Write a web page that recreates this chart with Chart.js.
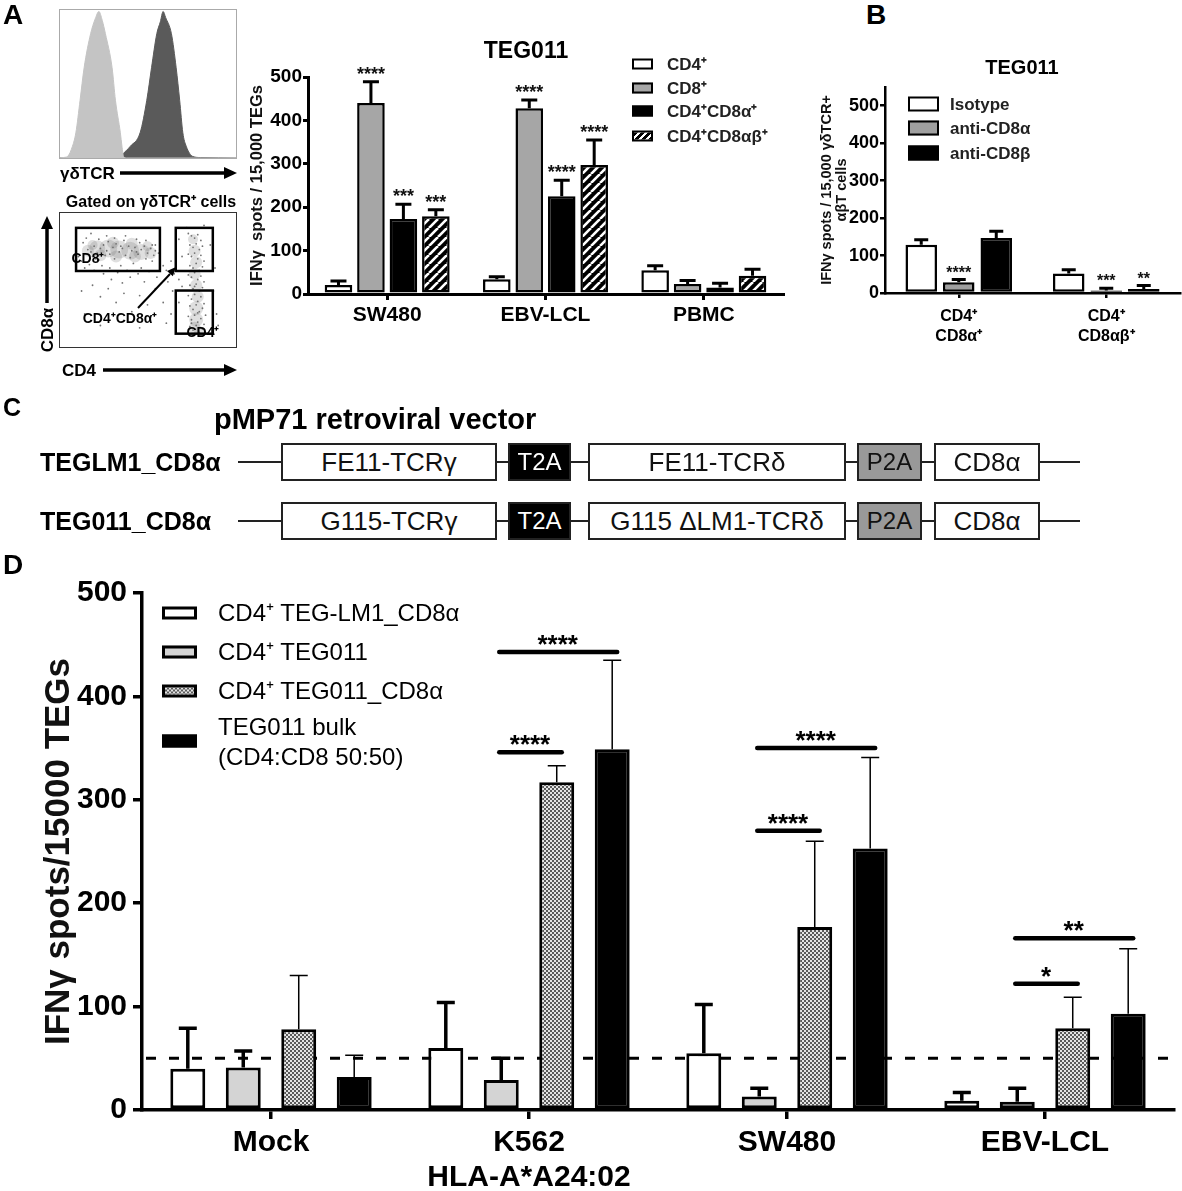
<!DOCTYPE html>
<html>
<head>
<meta charset="utf-8">
<script src="https://cdn.jsdelivr.net/npm/chart.js@4.4.1/dist/chart.umd.min.js"></script>
<style>
  body { margin: 0; background: #fff; }
  #page { position: relative; width: 1182px; height: 1191px; overflow: hidden;
          font-family: 'Liberation Sans', Arial, sans-serif; color: #000; }
  canvas { position: absolute; }
  .t  { position: absolute; white-space: nowrap; line-height: 1; transform: translate(-50%, -50%); }
  .tl { position: absolute; white-space: nowrap; line-height: 1; transform: translate(0, -50%); }
  .sw { position: absolute; box-sizing: border-box; transform: translate(0, -50%); }
  .frame { position: absolute; box-sizing: border-box; }
  .box { position: absolute; box-sizing: border-box; border: 2px solid #222; background: #fff;
         display: flex; align-items: center; justify-content: center; font-size: 26px; white-space: nowrap; }
  .line { position: absolute; height: 2px; background: #222; }
</style>
</head>
<body>
<div id="page">
  <!-- panel A, left: histogram + dot plot -->
  <div class="frame" style="left:59px;top:9px;width:178px;height:150px;border:1px solid #aaa;">
    <canvas id="hist" width="176" height="148" style="left:0;top:0"></canvas>
  </div>
  <div class="frame" style="left:59px;top:212px;width:178px;height:136px;border:1.5px solid #333;">
    <canvas id="flow" width="175" height="133" style="left:0;top:0"></canvas>
  </div>

  <canvas id="chartA" width="550" height="330" style="left:240px;top:30px"></canvas>
  <canvas id="chartB" width="382" height="330" style="left:800px;top:30px"></canvas>
  <canvas id="chartD" width="1182" height="631" style="left:0;top:560px"></canvas>

  <svg style="position:absolute;left:0;top:0" width="260" height="390">
    <line x1="120" y1="173" x2="226" y2="173" stroke="#000" stroke-width="3.5"/>
    <polygon points="237,173 224,167 224,179" fill="#000"/>
    <line x1="103" y1="370" x2="226" y2="370" stroke="#000" stroke-width="3.5"/>
    <polygon points="237,370 224,364 224,376" fill="#000"/>
    <line x1="47" y1="303" x2="47" y2="228" stroke="#000" stroke-width="3.5"/>
    <polygon points="47,216 41,229 53,229" fill="#000"/>
    <line x1="138" y1="308" x2="170" y2="274" stroke="#000" stroke-width="2"/>
    <polygon points="176,267 172.8,276.3 167,270.9" fill="#000"/>
  </svg>
</div>

<script>
  // ---- panel A: TEG011 subsets (IFNγ spots / 15,000 TEGs) ----
  const aCategories = ['SW480', 'EBV-LCL', 'PBMC'];
  const aSeries = ['CD4⁺', 'CD8⁺', 'CD4⁺CD8α⁺', 'CD4⁺CD8αβ⁺'];
  const aCD4 = [21, 34, 55];
  const aCD8 = [440, 428, 23];
  const aCD4CD8a = [173, 225, 15];
  const aCD4CD8ab = [179, 297, 42];
  const aCD4Err = [30, 40, 65];
  const aCD8Err = [489, 447, 31];
  const aCD4CD8aErr = [207, 262, 25];
  const aCD4CD8abErr = [194, 355, 57];
  const aCD8Stars = ['****', '****', ''];
  const aCD4CD8aStars = ['***', '****', ''];
  const aCD4CD8abStars = ['***', '****', ''];

  // ---- panel B: blocking ----
  const bCategories = [['CD4⁺', 'CD8α⁺'], ['CD4⁺', 'CD8αβ⁺']];
  const bSeries = ['Isotype', 'anti-CD8α', 'anti-CD8β'];
  const bIsotype = [129, 52];
  const bAntiCD8a = [29, 7];
  const bAntiCD8b = [147, 11];
  const bIsotypeErr = [142, 62];
  const bAntiCD8aErr = [36, 13];
  const bAntiCD8bErr = [165, 20];
  const bAntiCD8aStars = ['****', '***'];
  const bAntiCD8bStars = ['', '**'];

  // ---- panel D ----
  const dCategories = ['Mock', ['K562', 'HLA-A*A24:02'], 'SW480', 'EBV-LCL'];
  const dSeries = ['CD4⁺ TEG-LM1_CD8α', 'CD4⁺ TEG011', 'CD4⁺ TEG011_CD8α', 'TEG011 bulk<br>(CD4:CD8 50:50)'];
  const dLM1 = [40, 60, 55, 9];
  const dTEG011 = [41, 29, 13, 8];
  const dTEG011CD8a = [78, 317, 177, 79];
  const dBulk = [32, 349, 253, 93];
  const dLM1Err = [79, 104, 102, 17];
  const dTEG011Err = [57, 50, 21, 21];
  const dTEG011CD8aErr = [130, 333, 260, 109];
  const dBulkErr = [53, 435, 341, 156];
  const dThreshold = 50;
  const dBracketCats = [1, 1, 2, 2, 3, 3];
  const dBracketFrom = [1, 1, 1, 1, 1, 1];
  const dBracketTo = [2, 3, 2, 3, 2, 3];
  const dBracketValues = [346, 443, 270, 350, 122, 166];
  const dBracketLabels = ['****', '****', '****', '****', '*', '**'];

  // ---- histogram (γδTCR) ----
  const lightX = [0, 3, 4.3, 7.1, 9, 11.4, 13.7, 17.4, 20, 22.1, 24, 25.8, 29.6, 31.5, 34.3, 35.2, 36.1, 38, 100];
  const lightY = [0, 0.5, 1, 8, 17, 39, 61, 84, 94, 99, 93, 84, 61, 39, 17, 8, 1, 0, 0];
  const darkX = [0, 33, 35, 40, 45.5, 49.3, 52, 55, 57, 58.6, 60, 63.3, 66, 68, 69.8, 71.7, 75.5, 80, 100];
  const darkY = [0, 0, 2, 8, 17, 39, 61, 84, 92, 99, 95, 84, 61, 39, 17, 8, 1, 0.3, 0];

  // ---- dot plot (CD4 vs CD8α), gates in % of axes ----
  const flowClouds = [[12,75,6],[18,77,8],[25,77,9],[32,76,9],[39,75,9],[46,74,8],[52,73,6],[20,71,6],[30,70,6],
    [42,70,6],[15,80,5],[28,82,6],[40,81,6],[50,79,5],[79,85,5],[80,75,6],[81,65,6],[80,55,6],[81,45,6],
    [82,35,6],[81,25,7],[81,15,7],[80,8,6],[83,5,5]];
  const flowDots = [[6,70],[8,66],[9,82],[10,60],[11,86],[13,63],[14,90],[16,58],[17,68],[19,85],[21,62],[22,55],
    [24,88],[26,60],[27,50],[29,86],[31,56],[33,62],[34,47],[36,88],[37,58],[39,52],[41,64],[43,85],[44,55],[46,60],
    [48,48],[49,84],[51,57],[53,66],[55,80],[56,52],[58,70],[60,62],[62,58],[63,48],[65,66],[66,40],[67,55],[70,50],
    [72,44],[25,42],[35,38],[45,36],[55,42],[60,30],[50,28],[30,30],[20,35],[15,45],[40,22],[65,20],[70,30],[62,12],
    [68,8],[10,20],[20,10],[45,8],[8,40],[92,40],[93,60],[94,20],[90,80],[95,10],[75,95],[86,97],[72,70],[70,85],
    [76,90],[78,88],[80,86],[82,89],[84,84],[77,80],[79,78],[81,81],[83,76],[85,79],[76,72],[78,70],[80,73],[82,68],
    [84,71],[86,66],[77,62],[79,60],[81,64],[83,58],[85,61],[76,54],[78,52],[80,56],[82,50],[84,53],[86,48],[77,45],
    [79,42],[81,46],[83,40],[85,43],[76,36],[78,33],[80,37],[82,31],[84,35],[86,29],[77,27],[79,24],[81,28],[83,22],
    [85,25],[87,19],[76,18],[78,15],[80,19],[82,13],[84,16],[86,11],[77,9],[79,6],[81,10],[83,4],[85,7],[87,3],
    [80,3],[78,12],[82,21],[80,44],[12,76],[14,74],[16,79],[18,73],[20,77],[22,80],[24,75],[26,72],[28,78],[30,81],
    [32,74],[34,77],[36,71],[38,79],[40,75],[42,78],[44,72],[46,76],[48,79],[50,73],[52,77],[54,71],[15,70],[25,83],
    [35,84],[45,82],[55,75],[19,67],[29,68],[39,69],[49,68],[23,71],[33,79],[43,74],[53,80],[57,73]];
  const gateLeft = [4.5, 68, 68], gateRight = [57.9, 91.6, 91.6];
  const gateBottom = [57.4, 57.4, 2.9], gateTop = [94.9, 94.9, 40.4];

  const FONT = "'Liberation Sans', Arial, sans-serif";
  Chart.defaults.font.family = FONT;
  Chart.defaults.color = '#000';

  function makeHatch() {
    const c = document.createElement('canvas'); c.width = c.height = 9;
    const g = c.getContext('2d');
    g.fillStyle = '#000'; g.fillRect(0, 0, 9, 9);
    g.strokeStyle = '#fff'; g.lineWidth = 2.6;
    for (const o of [-9, 0, 9]) { g.beginPath(); g.moveTo(o, 9); g.lineTo(o + 9, 0); g.stroke(); }
    return g.createPattern(c, 'repeat');
  }
  function makeChecker() {
    const c = document.createElement('canvas'); c.width = c.height = 4;
    const g = c.getContext('2d');
    g.fillStyle = '#e4e4e4'; g.fillRect(0, 0, 4, 4);
    g.fillStyle = '#5a5a5a'; g.fillRect(0, 0, 2, 2); g.fillRect(2, 2, 2, 2);
    return g.createPattern(c, 'repeat');
  }
  const hatch = makeHatch();
  const checker = makeChecker();

  // error bars + significance stars above each bar
  const errorBars = {
    id: 'errorBars',
    afterDatasetsDraw(chart) {
      const ctx = chart.ctx, y = chart.scales.y;
      chart.data.datasets.forEach((ds, i) => {
        if (!ds.errors) return;
        chart.getDatasetMeta(i).data.forEach((bar, j) => {
          const top = y.getPixelForValue(ds.errors[j]);
          ctx.save();
          ctx.strokeStyle = '#000';
          ctx.lineWidth = ds.errWidth;
          ctx.beginPath();
          ctx.moveTo(bar.x, bar.y);
          ctx.lineTo(bar.x, top);
          ctx.moveTo(bar.x - ds.capHalf, top);
          ctx.lineTo(bar.x + ds.capHalf, top);
          ctx.stroke();
          if (ds.stars && ds.stars[j]) {
            ctx.fillStyle = '#111';
            ctx.font = 'bold ' + ds.starSize + 'px ' + FONT;
            ctx.textAlign = 'center';
            ctx.textBaseline = 'alphabetic';
            ctx.fillText(ds.stars[j], bar.x, top - 2);
          }
          ctx.restore();
        });
      });
    }
  };

  const threshold = {
    id: 'threshold',
    beforeDatasetsDraw(chart) {
      const ctx = chart.ctx, a = chart.chartArea;
      const py = chart.scales.y.getPixelForValue(dThreshold);
      ctx.save();
      ctx.strokeStyle = '#000'; ctx.lineWidth = 3; ctx.setLineDash([10, 13]);
      ctx.beginPath(); ctx.moveTo(a.left + 4, py); ctx.lineTo(a.right, py); ctx.stroke();
      ctx.restore();
    }
  };

  const brackets = {
    id: 'brackets',
    afterDatasetsDraw(chart) {
      const ctx = chart.ctx, y = chart.scales.y;
      dBracketValues.forEach((v, k) => {
        const a = chart.getDatasetMeta(dBracketFrom[k]).data[dBracketCats[k]];
        const b = chart.getDatasetMeta(dBracketTo[k]).data[dBracketCats[k]];
        const py = y.getPixelForValue(v);
        ctx.save();
        ctx.strokeStyle = '#000'; ctx.lineWidth = 4.5; ctx.lineCap = 'round';
        ctx.beginPath(); ctx.moveTo(a.x - 2, py); ctx.lineTo(b.x + 5, py); ctx.stroke();
        ctx.fillStyle = '#000';
        ctx.font = 'bold 26px ' + FONT;
        ctx.textAlign = 'center'; ctx.textBaseline = 'alphabetic';
        ctx.fillText(dBracketLabels[k], (a.x + b.x) / 2 + 1, py + 1);
        ctx.restore();
      });
    }
  };

  const gates = {
    id: 'gates',
    afterDatasetsDraw(chart) {
      const ctx = chart.ctx, x = chart.scales.x, y = chart.scales.y;
      ctx.save();
      ctx.strokeStyle = '#000'; ctx.lineWidth = 2.5;
      gateLeft.forEach((l, i) => {
        const x0 = x.getPixelForValue(l), x1 = x.getPixelForValue(gateRight[i]);
        const y0 = y.getPixelForValue(gateTop[i]), y1 = y.getPixelForValue(gateBottom[i]);
        ctx.strokeRect(x0, y0, x1 - x0, y1 - y0);
      });
      ctx.restore();
    }
  };

  function barSet(label, data, fill, errors, errWidth, capHalf, border, stars, starSize) {
    return { label, data, backgroundColor: fill, borderColor: '#000', borderWidth: border,
             borderSkipped: false, errors, errWidth, capHalf, stars, starSize };
  }

  function axes(o) {
    return {
      x: {
        offset: true,
        grid: { drawOnChartArea: false, offset: false, color: '#000', lineWidth: o.lw, tickLength: o.xTick },
        border: { color: '#000', width: o.lw },
        ticks: { font: { size: o.xFont, weight: 'bold', lineHeight: o.xLine }, padding: o.xPad, color: '#000',
                 autoSkip: false, maxRotation: 0 },
        afterFit(s) { s.height = o.xHeight; }
      },
      y: {
        min: 0, max: o.yMax,
        afterBuildTicks(s) {
          const t = [];
          for (let v = 0; v <= o.yMax; v += 100) t.push({ value: v });
          s.ticks = t;
        },
        ticks: { stepSize: 100, font: { size: o.yFont, weight: 'bold' }, padding: o.yPad, color: '#000' },
        grid: { drawOnChartArea: false, color: '#000', lineWidth: o.lw, tickLength: o.yTick },
        border: { color: '#000', width: o.lw },
        title: { display: true, text: o.title, color: '#111',
                 font: { size: o.titleFont, weight: 'bold', lineHeight: o.titleLine }, padding: { top: o.titlePad, bottom: 0 } },
        afterFit(s) { s.width = o.yWidth; }
      }
    };
  }

  const common = { responsive: false, animation: false,
    plugins: { legend: { display: false }, tooltip: { enabled: false } } };

  // panel A chart
  new Chart(document.getElementById('chartA'), {
    type: 'bar',
    data: { labels: aCategories, datasets: [
      barSet(aSeries[0], aCD4, '#fff', aCD4Err, 3, 8, 2.5),
      barSet(aSeries[1], aCD8, '#a6a6a6', aCD8Err, 3, 8, 2.5, aCD8Stars, 18),
      barSet(aSeries[2], aCD4CD8a, '#000', aCD4CD8aErr, 3, 8, 2.5, aCD4CD8aStars, 18),
      barSet(aSeries[3], aCD4CD8ab, hatch, aCD4CD8abErr, 3, 8, 2.5, aCD4CD8abStars, 18)
    ] },
    options: Object.assign({}, common, {
      layout: { padding: { top: 47, right: 7, left: 0, bottom: 0 } },
      datasets: { bar: { categoryPercentage: 0.82, barPercentage: 0.85 } },
      scales: axes({ lw: 3, xTick: 6, xFont: 21, xLine: 1, xPad: 4.5, xHeight: 66, yMax: 500, yFont: 19,
                     yPad: 1, yTick: 5, title: 'IFNγ  spots / 15,000 TEGs', titleFont: 16.5, titleLine: 1,
                     titlePad: 9, yWidth: 68 })
    }),
    plugins: [errorBars]
  });

  // panel B chart
  new Chart(document.getElementById('chartB'), {
    type: 'bar',
    data: { labels: bCategories, datasets: [
      barSet(bSeries[0], bIsotype, '#fff', bIsotypeErr, 3, 7, 2.5),
      barSet(bSeries[1], bAntiCD8a, '#a0a0a0', bAntiCD8aErr, 3, 7, 2.5, bAntiCD8aStars, 16),
      barSet(bSeries[2], bAntiCD8b, '#000', bAntiCD8bErr, 3, 7, 2.5, bAntiCD8bStars, 16)
    ] },
    options: Object.assign({}, common, {
      layout: { padding: { top: 57, right: 2, left: 0, bottom: 0 } },
      datasets: { bar: { categoryPercentage: 0.763, barPercentage: 0.84 } },
      scales: axes({ lw: 2.5, xTick: 5, xFont: 16, xLine: 1.25, xPad: 9, xHeight: 67, yMax: 550, yFont: 18,
                     yPad: 1, yTick: 5, title: ['IFNγ spots / 15,000 γδTCR+', 'αβT cells'], titleFont: 14.5,
                     titleLine: 1, titlePad: 20, yWidth: 85 })
    }),
    plugins: [errorBars]
  });

  // panel D chart
  new Chart(document.getElementById('chartD'), {
    type: 'bar',
    data: { labels: dCategories, datasets: [
      barSet(dSeries[0], dLM1, '#fff', dLM1Err, 3.5, 9, 3),
      barSet(dSeries[1], dTEG011, '#d4d4d4', dTEG011Err, 3.5, 9, 3),
      barSet(dSeries[2], dTEG011CD8a, checker, dTEG011CD8aErr, 1.5, 9, 3),
      barSet(dSeries[3], dBulk, '#000', dBulkErr, 1.5, 9, 3)
    ] },
    options: Object.assign({}, common, {
      layout: { padding: { top: 33, right: 8, left: 0, bottom: 0 } },
      datasets: { bar: { categoryPercentage: 0.86, barPercentage: 0.63 } },
      scales: axes({ lw: 3.5, xTick: 9, xFont: 30, xLine: 1.17, xPad: 6.5, xHeight: 81, yMax: 500, yFont: 30,
                     yPad: 6, yTick: 9, title: 'IFNγ spots/15000 TEGs', titleFont: 35, titleLine: 1,
                     titlePad: 42, yWidth: 142 })
    }),
    plugins: [threshold, errorBars, brackets]
  });

  // γδTCR histogram
  new Chart(document.getElementById('hist'), {
    type: 'line',
    data: { datasets: [
      { data: lightX.map((x, i) => ({ x, y: lightY[i] })), fill: 'origin', backgroundColor: '#c4c4c4', borderColor: '#c4c4c4' },
      { data: darkX.map((x, i) => ({ x, y: darkY[i] })), fill: 'origin', backgroundColor: '#5a5a5a', borderColor: '#5a5a5a' }
    ] },
    options: Object.assign({}, common, {
      layout: { padding: 0 },
      elements: { point: { radius: 0 }, line: { borderWidth: 1, cubicInterpolationMode: 'monotone' } },
      scales: { x: { type: 'linear', min: 0, max: 100, display: false }, y: { min: 0, max: 100, display: false } }
    })
  });

  // CD4 / CD8α dot plot
  new Chart(document.getElementById('flow'), {
    type: 'bubble',
    data: { datasets: [
      { data: flowClouds.map(p => ({ x: p[0], y: p[1], r: p[2] })), backgroundColor: 'rgba(110,110,110,0.22)', borderWidth: 0 },
      { data: flowDots.map(p => ({ x: p[0], y: p[1], r: 0.9 })), backgroundColor: 'rgba(80,80,80,0.8)', borderWidth: 0 }
    ] },
    options: Object.assign({}, common, {
      layout: { padding: 0 },
      scales: { x: { type: 'linear', min: 0, max: 100, display: false }, y: { min: 0, max: 100, display: false } }
    }),
    plugins: [gates]
  });

  // ---- texts, legends and the vector map ----
  const page = document.getElementById('page');
  function addText(html, x, y, css, left) {
    const d = document.createElement('div');
    d.className = left ? 'tl' : 't';
    d.style.left = x + 'px'; d.style.top = y + 'px';
    d.style.cssText += css || '';
    d.innerHTML = html;
    page.appendChild(d);
    return d;
  }
  function addSwatch(x, y, w, h, bg, bw) {
    const d = document.createElement('div');
    d.className = 'sw';
    d.style.cssText += `left:${x}px;top:${y}px;width:${w}px;height:${h}px;background:${bg};border:${bw}px solid #000;`;
    page.appendChild(d);
  }
  const B = 'font-weight:bold;';

  addText('A', 13, 15, B + 'font-size:28px;');
  addText('B', 876, 15, B + 'font-size:28px;');
  addText('C', 12, 407, B + 'font-size:25px;');
  addText('D', 13, 565, B + 'font-size:28px;');

  addText('γδTCR', 60, 173, B + 'font-size:17px;', true);
  addText('Gated on γδTCR⁺ cells', 151, 202, B + 'font-size:16px;');
  addText('CD8α', 47, 330, B + 'font-size:17px;transform:translate(-50%,-50%) rotate(-90deg);');
  addText('CD4', 62, 370, B + 'font-size:17px;', true);
  addText('CD8⁺', 88, 258, B + 'font-size:14px;');
  addText('CD4⁺', 203, 332, B + 'font-size:14px;');
  addText('CD4⁺CD8α⁺', 120, 318, B + 'font-size:14px;');

  addText('TEG011', 526, 50, B + 'font-size:23px;');
  const hatchCss = 'repeating-linear-gradient(135deg,#000 0 3px,#fff 3px 5px)';
  const aSw = ['#fff', '#a6a6a6', '#000', hatchCss];
  [64, 88, 111, 136].forEach((y, i) => {
    addSwatch(632, y, 21, 11, aSw[i], 2.5);
    addText(aSeries[i], 667, y, B + 'font-size:17px;color:#222;', true);
  });

  addText('TEG011', 1022, 67, B + 'font-size:20px;');
  const bSw = ['#fff', '#a0a0a0', '#000'];
  [104, 128, 153].forEach((y, i) => {
    addSwatch(908, y, 31, 15, bSw[i], 2.5);
    addText(bSeries[i], 950, y, B + 'font-size:17px;color:#222;', true);
  });

  const checkerCss = 'conic-gradient(#5a5a5a 25%,#e4e4e4 0 50%,#5a5a5a 0 75%,#e4e4e4 0) 0 0/4px 4px';
  const dSw = ['#fff', '#d4d4d4', checkerCss, '#000'];
  [613, 652, 691, 741].forEach((y, i) => {
    addSwatch(162, y, 35, 13, dSw[i], 3);
    addText(dSeries[i], 218, i === 3 ? 742 : y, 'font-size:24px;line-height:1.25;', true);
  });

  // panel C: pMP71 constructs
  addText('pMP71 retroviral vector', 214, 419, B + 'font-size:29px;', true);
  const rowNames = ['TEGLM1_CD8α', 'TEG011_CD8α'];
  const rowParts = [['FE11-TCRγ', 'T2A', 'FE11-TCRδ', 'P2A', 'CD8α'],
                    ['G115-TCRγ', 'T2A', 'G115 ΔLM1-TCRδ', 'P2A', 'CD8α']];
  const partLeft = [281, 508, 588, 857, 934], partRight = [497, 571, 846, 922, 1040];
  const partFill = ['#fff', '#000', '#fff', '#999', '#fff'];
  const partInk = ['#111', '#fff', '#111', '#111', '#111'];
  [462, 521].forEach((cy, r) => {
    addText(rowNames[r], 40, cy, B + 'font-size:25px;', true);
    const ln = document.createElement('div');
    ln.className = 'line';
    ln.style.cssText += `left:238px;top:${cy - 1}px;width:842px;`;
    page.appendChild(ln);
    rowParts[r].forEach((p, k) => {
      const d = document.createElement('div');
      d.className = 'box';
      d.style.cssText += `left:${partLeft[k]}px;top:${cy - 19}px;width:${partRight[k] - partLeft[k]}px;height:38px;` +
                         `background:${partFill[k]};color:${partInk[k]};` + (k % 2 ? 'font-size:24px;' : '');
      d.textContent = p;
      page.appendChild(d);
    });
  });
</script>
</body>
</html>
